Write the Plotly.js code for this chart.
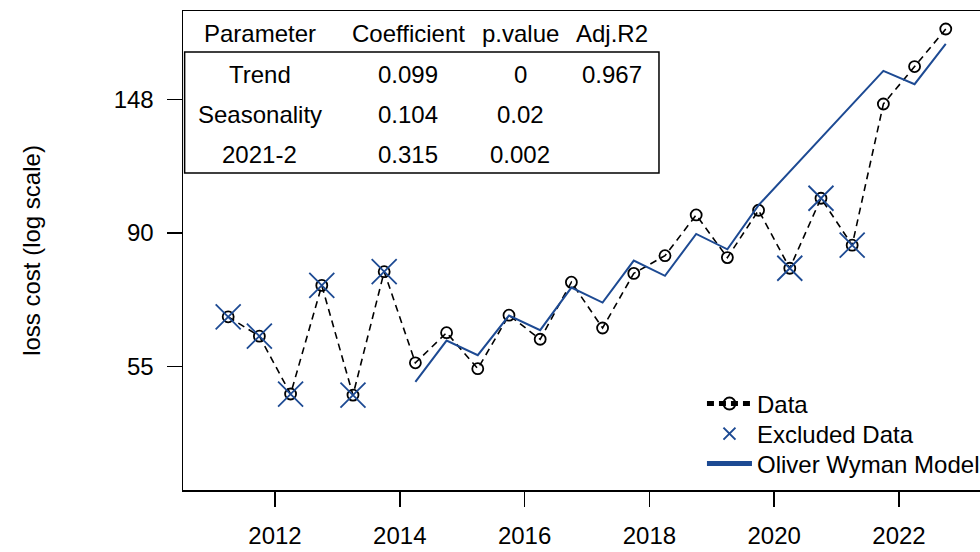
<!DOCTYPE html>
<html>
<head>
<meta charset="utf-8">
<script src="https://cdn.plot.ly/plotly-3.0.1.min.js"></script>
<style>
  html, body { margin: 0; padding: 0; overflow: hidden; background: #fff; }
  #chart { width: 1000px; height: 552px; }
</style>
</head>
<body>
<div id="chart"></div>
<script>
// Half-year observations (loss cost, log scale)
const dataYears = [
  2011.25, 2011.75, 2012.25, 2012.75, 2013.25, 2013.75, 2014.25, 2014.75,
  2015.25, 2015.75, 2016.25, 2016.75, 2017.25, 2017.75, 2018.25, 2018.75,
  2019.25, 2019.75, 2020.25, 2020.75, 2021.25, 2021.75, 2022.25, 2022.75,
];
const dataValues = [
  65.8, 61.2, 49.3, 74.0, 49.1, 77.9, 55.4, 62.0,
  54.2, 66.2, 60.5, 74.9, 63.1, 77.4, 82.7, 96.3,
  82.1, 98.0, 78.9, 102.5, 86.0, 145.8, 167.7, 193.0,
];

// Points left out of the fit
const excludedYears = [2011.25, 2011.75, 2012.25, 2012.75, 2013.25, 2013.75, 2020.25, 2020.75, 2021.25];

// Fitted model
const modelYears = [
  2014.25, 2014.75, 2015.25, 2015.75, 2016.25, 2016.75, 2017.25, 2017.75,
  2018.25, 2018.75, 2019.25, 2019.75, 2021.75, 2022.25, 2022.75,
];
const modelValues = [
  51.6, 60.2, 57.0, 66.1, 62.6, 73.4, 69.4, 81.2,
  76.7, 89.7, 84.7, 99.9, 165.0, 157.0, 182.5,
];

// Axis ticks
const xTickVals = [2012, 2014, 2016, 2018, 2020, 2022];
const yTickVals = [54.6, 90.0, 148.4];
const yTickLabels = ["55", "90", "148"];

// Regression table
const tableHeader = ["Parameter", "Coefficient", "p.value", "Adj.R2"];
const tableRows = [
  ["Trend", "0.099", "0", "0.967"],
  ["Seasonality", "0.104", "0.02", ""],
  ["2021-2", "0.315", "0.002", ""],
];

const blue = "#1d4a93";
const font = "Liberation Sans, Arial, sans-serif";

const excludedValues = excludedYears.map((yr) => dataValues[dataYears.indexOf(yr)]);

const traces = [
  {
    x: dataYears,
    y: dataValues,
    mode: "lines+markers",
    type: "scatter",
    name: "Data",
    legend: "legend",
    line: { color: "#000", width: 1.6, dash: "7px,5px" },
    marker: { symbol: "circle-open", size: 11, color: "#000", line: { width: 1.8, color: "#000" } },
  },
  {
    x: modelYears,
    y: modelValues,
    mode: "lines",
    type: "scatter",
    name: "Oliver Wyman Model",
    legend: "legend3",
    line: { color: blue, width: 2 },
  },
  {
    x: excludedYears,
    y: excludedValues,
    mode: "markers",
    type: "scatter",
    name: "Excluded Data",
    legend: "legend2",
    marker: { symbol: "x-thin", size: 25, color: blue, line: { width: 1.8, color: blue } },
  },
];

// Table text as annotations (paper coords)
const colX = [0.0942, 0.2754, 0.4126, 0.5251];
const headerY = 0.952;
const rowY = [0.8664, 0.7829, 0.6994];
const annotations = [];
tableHeader.forEach((txt, i) => {
  annotations.push({ xref: "paper", yref: "paper", x: colX[i], y: headerY, text: txt, showarrow: false,
    xanchor: "center", yanchor: "middle", font: { family: font, size: 24, color: "#000" } });
});
tableRows.forEach((row, r) => {
  row.forEach((txt, i) => {
    if (!txt) return;
    annotations.push({ xref: "paper", yref: "paper", x: colX[i], y: rowY[r], text: txt, showarrow: false,
      xanchor: "center", yanchor: "middle", font: { family: font, size: 24, color: "#000" } });
  });
});

// one legend per entry so the rows sit where the reference has them
function legendAt(yPaper) {
  return {
    x: 0.6352, y: yPaper, xanchor: "left", yanchor: "middle",
    bgcolor: "rgba(0,0,0,0)", borderwidth: 0,
    itemsizing: "constant", itemwidth: 45,
    font: { family: font, size: 24, color: "#000" },
  };
}

const layout = {
  width: 1000,
  height: 552,
  margin: { l: 183, r: 0, t: 11, b: 62 },
  paper_bgcolor: "#fff",
  plot_bgcolor: "#fff",
  font: { family: font, size: 24, color: "#000" },
  showlegend: true,
  legend: legendAt(0.1795),
  legend2: legendAt(0.1169),
  legend3: legendAt(0.0543),
  xaxis: {
    range: [2010.526, 2023.619],
    tickvals: xTickVals,
    ticks: "outside", ticklen: 15, tickwidth: 1.5, tickcolor: "#000",
    ticklabelstandoff: 9,
    showline: true, linecolor: "#000", linewidth: 1.5, mirror: true,
    showgrid: false, zeroline: false,
    tickfont: { family: font, size: 24, color: "#000" },
  },
  yaxis: {
    type: "log",
    range: [1.537, 2.3148],
    tickvals: yTickVals,
    ticktext: yTickLabels,
    ticks: "outside", ticklen: 15, tickwidth: 1.5, tickcolor: "#000",
    ticklabelstandoff: 8,
    showline: true, linecolor: "#000", linewidth: 1.5, mirror: true,
    showgrid: false, zeroline: false,
    tickfont: { family: font, size: 24, color: "#000" },
    title: { text: "loss cost (log scale)", standoff: 66, font: { family: font, size: 24, color: "#000" } },
  },
  annotations: annotations,
  shapes: [
    // table body box
    { type: "rect", xref: "paper", yref: "paper", x0: 0.002, x1: 0.5826, y0: 0.6618, y1: 0.9144,
      line: { color: "#000", width: 1.5 }, fillcolor: "rgba(0,0,0,0)" },
  ],
};

Plotly.newPlot("chart", traces, layout, { displayModeBar: false, staticPlot: true });
</script>
</body>
</html>
